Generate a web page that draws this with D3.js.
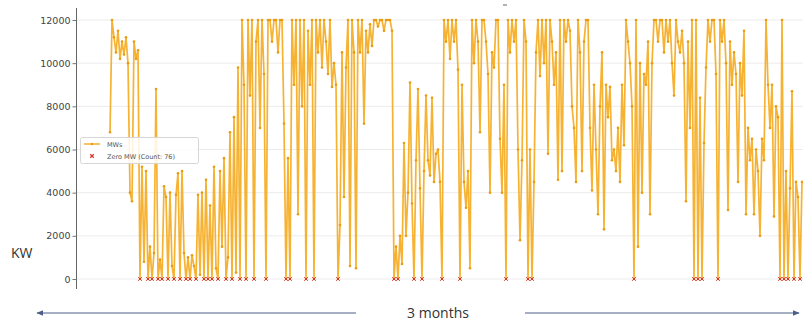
<!DOCTYPE html>
<html>
<head>
<meta charset="utf-8" />
<script src="https://d3js.org/d3.v7.min.js"></script>
<style>
  body { margin: 0; background: #fff; }
  svg { display: block; }
  .tick text { font: 9.5px "DejaVu Sans", sans-serif; fill: #444; }
  .legend text { font: 6.5px "DejaVu Sans", sans-serif; fill: #555; }
  .note { font: 14px "Open Sans", sans-serif; fill: #333; }
</style>
</head>
<body>
<svg></svg>
<script>
// power readings (kW), one sample every ~6 hours over roughly 3 months
var mw = [
  6800, 12000, 11200, 10500, 11500, 10200, 11000, 10400, 11200, 10000,
  4000, 3600, 11000, 10200, 10600, 0, 5200, 800, 5000, 0,
  1500, 0, 1200, 8800, 0, 900, 0, 4300, 3800, 0,
  4000, 600, 0, 3900, 4900, 0, 5000, 1200, 0, 1000,
  0, 1100, 600, 0, 3900, 200, 4000, 0, 4600, 0,
  3400, 0, 5200, 500, 0, 5000, 1500, 5600, 0, 1000,
  6800, 0, 7500, 300, 9800, 0, 12000, 9000, 0, 12000,
  8500, 12000, 0, 11000, 12000, 7000, 12000, 9500, 0, 12000,
  12000, 11000, 12000, 12000, 10500, 12000, 12000, 7200, 0, 5600,
  0, 12000, 9000, 12000, 3000, 12000, 8000, 12000, 0, 11500,
  9000, 12000, 0, 12000, 10500, 12000, 9800, 12000, 11000, 9500,
  12000, 8900, 10000, 9000, 0, 2500, 10500, 3800, 9800, 12000,
  600, 12000, 10500, 500, 12000, 10500, 12000, 7200, 11500, 10500,
  11800, 10800, 12000, 12000, 11700, 12000, 12000, 11500, 12000, 12000,
  12000, 11500, 0, 1500, 0, 2000, 700, 6300, 2000, 4000,
  9100, 3500, 0, 5500, 8800, 4200, 0, 5000, 8500, 5500,
  4800, 8400, 4500, 5800, 6000, 4500, 0, 12000, 11000, 12000,
  10200, 12000, 11000, 12000, 9700, 0, 9000, 4500, 3300, 5000,
  500, 12000, 10000, 12000, 11000, 6800, 12000, 12000, 11000, 9500,
  4000, 10500, 9800, 12000, 12000, 6500, 4000, 9000, 0, 12000,
  10500, 12000, 11000, 12000, 6000, 1800, 5500, 12000, 11000, 0,
  6000, 0, 4500, 10500, 12000, 9400, 12000, 10000, 12000, 5800,
  12000, 11000, 9000, 10500, 4600, 12000, 5000, 12000, 11000, 12000,
  11500, 8000, 7000, 4500, 12000, 10500, 5000, 11000, 12000, 12000,
  7000, 4100, 9000, 6000, 3000, 8000, 10500, 2300, 9000, 7500,
  8900, 5500, 6000, 5000, 7000, 4500, 9000, 6200, 12000, 11000,
  10000, 8000, 0, 12000, 1500, 10000, 4000, 9500, 9000, 11000,
  3000, 10000, 12000, 12000, 11000, 12000, 12000, 10500, 12000, 11000,
  12000, 10000, 8500, 12000, 11000, 10500, 11500, 10000, 3600, 11000,
  7000, 12000, 0, 12000, 0, 8400, 0, 6300, 9800, 12000,
  11000, 12000, 12000, 9500, 0, 12000, 11000, 12000, 10000, 3200,
  11000, 9000, 10500, 9500, 4500, 10000, 8500, 11500, 3000, 7000,
  5500, 6500, 3000, 6000, 5000, 2000, 6500, 5500, 12000, 9000,
  7000, 9000, 2900, 8000, 7500, 0, 12000, 0, 5000, 0,
  4200, 8700, 0, 4500, 3800, 0, 4500
];
var yTicks = [0, 2000, 4000, 6000, 8000, 10000, 12000];
var seriesLabels = ['MWs', 'Zero MW (Count: 76)'];
var unitLabel = 'KW';
var spanLabel = '3 months';

var width = 803, height = 325;
var orange = '#f4a50f', red = '#d9342b', arrowBlue = '#4c5f86';

var svg = d3.select('svg').attr('width', width).attr('height', height);

var x = d3.scaleLinear().domain([0, mw.length - 1]).range([110, 802]);
var y = d3.scaleLinear().domain([0, 12000]).range([279, 20]);

// grid
svg.append('g')
  .selectAll('line')
  .data(yTicks)
  .enter().append('line')
  .attr('x1', 77).attr('x2', width)
  .attr('y1', function (d) { return y(d); })
  .attr('y2', function (d) { return y(d); })
  .attr('stroke', '#ececec')
  .attr('stroke-width', 1);

// y axis
var yAxis = svg.append('g')
  .attr('transform', 'translate(76.5,0)')
  .call(d3.axisLeft(y).tickValues(yTicks).tickSize(4).tickPadding(2).tickFormat(d3.format('d')));
yAxis.select('.domain').attr('d', 'M0,8V289').attr('stroke', '#666');
yAxis.selectAll('.tick line').attr('stroke', '#777');

// series
var line = d3.line()
  .x(function (d, i) { return x(i); })
  .y(function (d) { return y(d); });

svg.append('path')
  .datum(mw)
  .attr('d', line)
  .attr('fill', 'none')
  .attr('stroke', orange)
  .attr('stroke-width', 1.7)
  .attr('stroke-opacity', 0.85)
  .attr('stroke-linejoin', 'round');

svg.append('g')
  .selectAll('circle')
  .data(mw)
  .enter().append('circle')
  .attr('cx', function (d, i) { return x(i); })
  .attr('cy', function (d) { return y(d); })
  .attr('r', 1.3)
  .attr('fill', '#e99c12');

// zero readings
var zeros = [];
mw.forEach(function (d, i) { if (d === 0) zeros.push(i); });
var xm = d3.symbol().type(d3.symbolX).size(10);
svg.append('g')
  .selectAll('path')
  .data(zeros)
  .enter().append('path')
  .attr('d', xm)
  .attr('transform', function (i) { return 'translate(' + x(i) + ',' + y(0) + ')'; })
  .attr('fill', 'none')
  .attr('stroke', red)
  .attr('stroke-width', 1);

// legend
var lg = svg.append('g').attr('class', 'legend');
lg.append('rect')
  .attr('x', 80.5).attr('y', 137.5).attr('width', 118).attr('height', 26)
  .attr('rx', 2)
  .attr('fill', '#fff').attr('fill-opacity', 0.85)
  .attr('stroke', '#d6d6d6');
lg.append('line')
  .attr('x1', 84).attr('x2', 100).attr('y1', 144).attr('y2', 144)
  .attr('stroke', orange).attr('stroke-width', 1.3);
lg.append('circle').attr('cx', 92).attr('cy', 144).attr('r', 1.2).attr('fill', '#e99c12');
lg.append('path')
  .attr('d', xm)
  .attr('transform', 'translate(92,156)')
  .attr('stroke', red).attr('stroke-width', 1.2).attr('fill', 'none');
lg.selectAll('text.lbl')
  .data(seriesLabels)
  .enter().append('text')
  .attr('class', 'lbl')
  .attr('x', 107)
  .attr('y', function (d, i) { return 146.5 + i * 12; })
  .text(function (d) { return d; });

// unit label
svg.append('text')
  .attr('class', 'note')
  .attr('x', 11).attr('y', 258)
  .text(unitLabel);

// span arrows
var defs = svg.append('defs');
defs.append('marker')
  .attr('id', 'ah')
  .attr('viewBox', '0 0 10 10')
  .attr('refX', 9).attr('refY', 5)
  .attr('markerWidth', 7).attr('markerHeight', 7)
  .attr('orient', 'auto-start-reverse')
  .append('path')
  .attr('d', 'M0,1L10,5L0,9z')
  .attr('fill', arrowBlue);

svg.append('line')
  .attr('x1', 356).attr('x2', 37).attr('y1', 313).attr('y2', 313)
  .attr('stroke', arrowBlue).attr('stroke-width', 1)
  .attr('marker-end', 'url(#ah)');
svg.append('line')
  .attr('x1', 525).attr('x2', 799).attr('y1', 313).attr('y2', 313)
  .attr('stroke', arrowBlue).attr('stroke-width', 1)
  .attr('marker-end', 'url(#ah)');
svg.append('text')
  .attr('class', 'note')
  .attr('x', 438).attr('y', 318)
  .attr('text-anchor', 'middle')
  .text(spanLabel);

// stray mark above plot
svg.append('line')
  .attr('x1', 503).attr('x2', 507).attr('y1', 5).attr('y2', 5)
  .attr('stroke', '#666').attr('stroke-width', 1);
</script>
</body>
</html>
